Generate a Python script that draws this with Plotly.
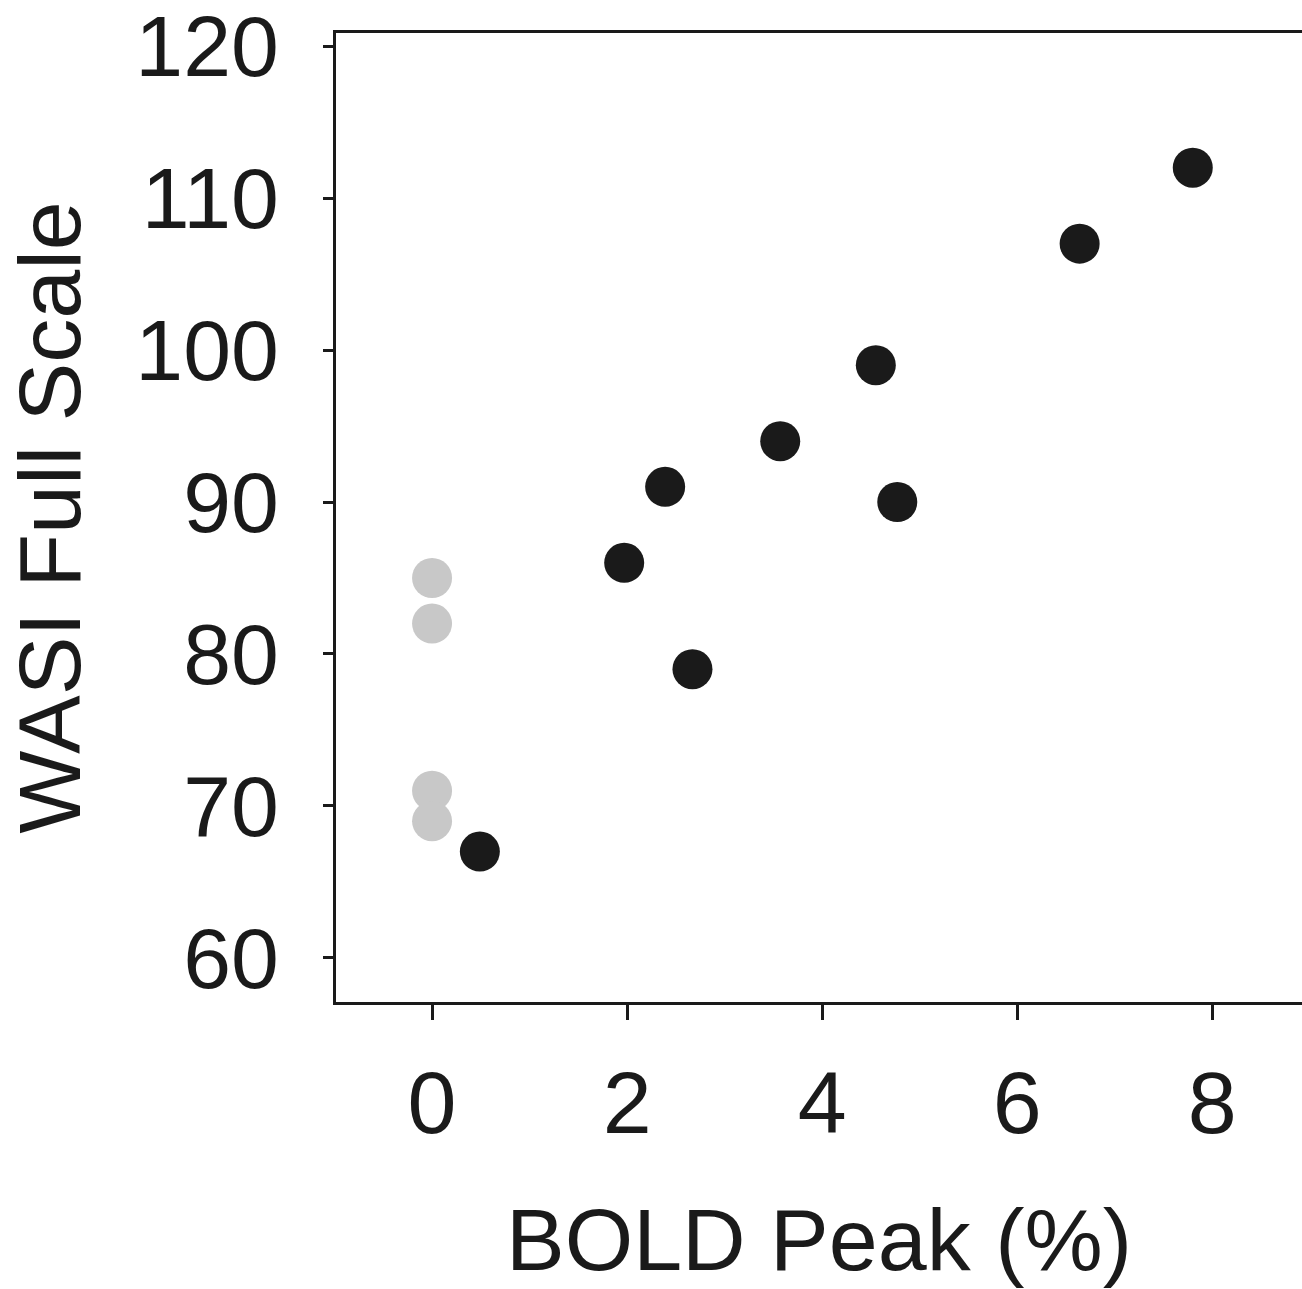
import plotly.graph_objects as go

# Data
excluded_bold = [0, 0, 0, 0]
excluded_wasi = [85, 82, 71, 69]

included_bold = [0.49, 1.97, 2.39, 2.67, 3.57, 4.55, 4.77, 6.64, 7.80]
included_wasi = [67, 86, 91, 79, 94, 99, 90, 107, 112]

x_ticks = [0, 2, 4, 6, 8]
y_ticks = [60, 70, 80, 90, 100, 110, 120]

FONT = "Liberation Sans, Arial, sans-serif"
INK = "#1a1a1a"

fig = go.Figure()
fig.add_trace(go.Scatter(
    x=excluded_bold, y=excluded_wasi, mode="markers",
    marker=dict(size=40, color="#c8c8c8", line=dict(width=0)),
    showlegend=False, cliponaxis=False,
))
fig.add_trace(go.Scatter(
    x=included_bold, y=included_wasi, mode="markers",
    marker=dict(size=40, color=INK, line=dict(width=0)),
    showlegend=False, cliponaxis=False,
))

fig.update_layout(
    width=1302, height=1289,
    margin=dict(l=336, r=0, t=33, b=287, autoexpand=False),
    paper_bgcolor="white", plot_bgcolor="white",
    font=dict(family=FONT, size=88, color=INK),
)
fig.update_xaxes(
    range=[-0.985, 8.92], tickvals=x_ticks, ticktext=[str(v) for v in x_ticks],
    showline=True, linecolor=INK, linewidth=3, mirror=True,
    ticks="outside", ticklen=15, tickwidth=3, tickcolor=INK,
    showgrid=False, zeroline=False, ticklabelstandoff=7, automargin=False,
    ticklabeloverflow="allow",
    tickfont=dict(size=88),
    title=dict(text="BOLD Peak (%)", font=dict(size=88), standoff=58),
)
fig.update_yaxes(
    range=[57.1, 120.86], tickvals=y_ticks, ticktext=[str(v) for v in y_ticks],
    showline=True, linecolor=INK, linewidth=3, mirror=False,
    ticks="outside", ticklen=10, tickwidth=3, tickcolor=INK,
    showgrid=False, zeroline=False, ticklabelstandoff=27, automargin=False,
    ticklabeloverflow="allow",
    tickfont=dict(size=86),
    title=dict(text="WASI Full Scale", font=dict(size=88), standoff=49),
)

fig.write_html("out.html")
